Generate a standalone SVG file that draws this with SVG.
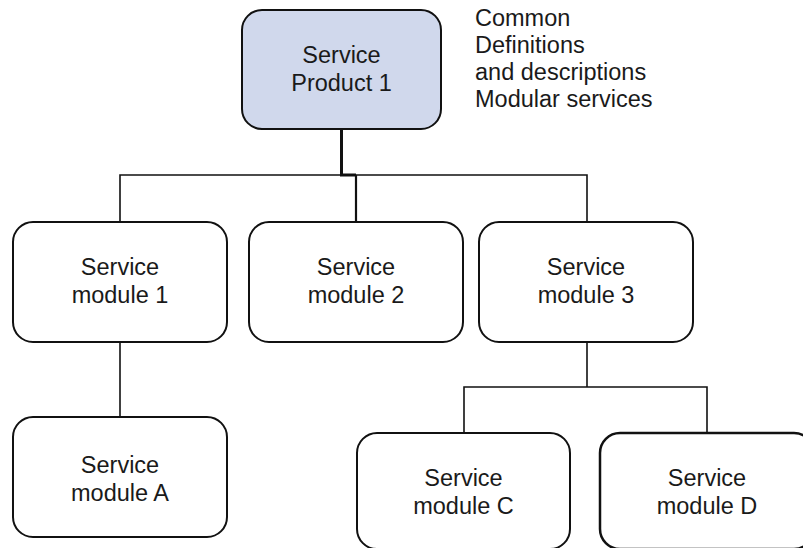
<svg xmlns="http://www.w3.org/2000/svg" width="803" height="548" viewBox="0 0 803 548">
  <style>
    .box { fill: #ffffff; stroke: #111111; stroke-width: 2; }
    .top { fill: #d0d8ec; }
    .lbl { font-family: "Liberation Sans", Arial, sans-serif; font-size: 23.5px; fill: #1a1a1a; text-anchor: middle; }
    .note { font-family: "Liberation Sans", Arial, sans-serif; font-size: 23.5px; fill: #1a1a1a; }
    .wire { fill: none; stroke: #111111; stroke-width: 1.6; }
    .stem { fill: none; stroke: #111111; stroke-width: 3; }
  </style>
  <rect width="803" height="548" fill="#ffffff"/>

  <!-- connectors -->
  <g id="connectors">
    <path class="stem" d="M341.5,129 V175 H356"/>
    <path class="wire" d="M120,222 V175 H587 V222"/>
    <path class="stem" d="M356,175 V222" style="stroke-width:2.2"/>
    <path class="wire" d="M120,342 V417"/>
    <path class="wire" d="M587,342 V387"/>
    <path class="wire" d="M464,433 V387 H707 V433"/>
  </g>

  <g id="product1">
    <rect class="box top" x="242" y="10" width="199" height="119" rx="20"/>
    <text class="lbl" x="341.5" y="63">Service</text>
    <text class="lbl" x="341.5" y="91">Product 1</text>
  </g>

  <g id="notes">
    <text class="note" x="475" y="26">Common</text>
    <text class="note" x="475" y="53">Definitions</text>
    <text class="note" x="475" y="80">and descriptions</text>
    <text class="note" x="475" y="107">Modular services</text>
  </g>

  <g id="module1">
    <rect class="box" x="13" y="222" width="214" height="120" rx="20"/>
    <text class="lbl" x="120" y="275">Service</text>
    <text class="lbl" x="120" y="303">module 1</text>
  </g>

  <g id="module2">
    <rect class="box" x="249" y="222" width="214" height="120" rx="20"/>
    <text class="lbl" x="356" y="275">Service</text>
    <text class="lbl" x="356" y="303">module 2</text>
  </g>

  <g id="module3">
    <rect class="box" x="479" y="222" width="214" height="120" rx="20"/>
    <text class="lbl" x="586" y="275">Service</text>
    <text class="lbl" x="586" y="303">module 3</text>
  </g>

  <g id="moduleA">
    <rect class="box" x="13" y="417" width="214" height="120" rx="20"/>
    <text class="lbl" x="120" y="473">Service</text>
    <text class="lbl" x="120" y="501">module A</text>
  </g>

  <g id="moduleC">
    <rect class="box" x="357" y="433" width="213" height="116" rx="20"/>
    <text class="lbl" x="463.5" y="486">Service</text>
    <text class="lbl" x="463.5" y="514">module C</text>
  </g>

  <g id="moduleD">
    <rect class="box" x="600" y="433" width="214" height="116" rx="20" style="stroke-width:2.5"/>
    <text class="lbl" x="707" y="486">Service</text>
    <text class="lbl" x="707" y="514">module D</text>
  </g>
</svg>
